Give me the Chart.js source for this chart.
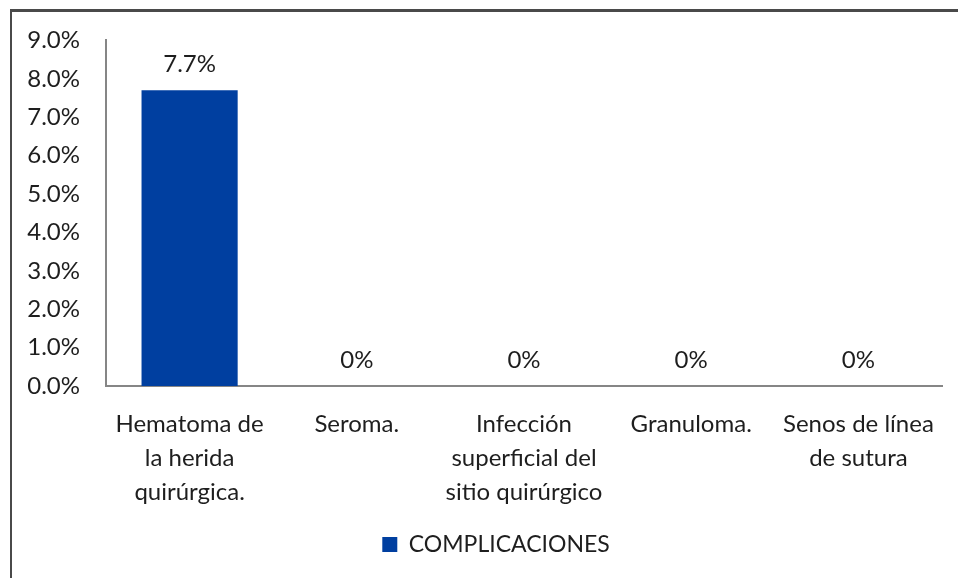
<!DOCTYPE html>
<html>
<head>
<meta charset="utf-8">
<script src="https://cdn.jsdelivr.net/npm/chart.js@4"></script>
<style>
  html, body { margin: 0; padding: 0; background: #fff; }
  #marco { position: absolute; left: 10px; top: 9px; width: 960px; height: 600px; border-top: 3px solid #4a4a4a; border-left: 2px solid #4a4a4a; }
  #lienzo { position: absolute; left: 0; top: 0; }
</style>
</head>
<body>
<div id="marco"></div>
<canvas id="lienzo" width="958" height="578"></canvas>
<script>
/* Datos del gráfico de complicaciones */
const categorias = [
    ['Hematoma de', 'la herida', 'quirúrgica.'],
    ['Seroma.'],
    ['Infección', 'superficial del', 'sitio quirúrgico'],
    ['Granuloma.'],
    ['Senos de línea', 'de sutura']
];
const valores = [7.7, 0, 0, 0, 0];
const etiquetas_valor = ['7.7%', '0%', '0%', '0%', '0%'];
const nombre_serie = 'COMPLICACIONES';

const fuente = 'Lato, "Open Sans", sans-serif';
const color_texto = '#1e1e1e';

/* Etiquetas encima de cada barra */
const plugin_etiquetas = {
    id: 'etiquetas_barras',
    afterUpdate(chart) {
        // la leyenda queda centrada un poco a la derecha, como en el original
        chart.legend.left += 50;
    },
    afterDatasetsDraw(chart) {
        const ctx = chart.ctx;
        const meta = chart.getDatasetMeta(0);
        ctx.save();
        ctx.font = '24px ' + fuente;
        ctx.fillStyle = color_texto;
        ctx.textAlign = 'center';
        ctx.textBaseline = 'middle';
        meta.data.forEach(function (barra, i) {
            ctx.fillText(etiquetas_valor[i], barra.x, barra.y - 26);
        });
        ctx.restore();
    }
};

const data_complicaciones = {
    labels: categorias,
    datasets: [{
        label: nombre_serie,
        data: valores,
        backgroundColor: 'rgb(0, 63, 160)',
        borderWidth: 0,
        categoryPercentage: 1,
        barPercentage: 0.575
    }]
};

const config_complicaciones = {
    type: 'bar',
    data: data_complicaciones,
    options: {
        responsive: false,
        animation: false,
        layout: { padding: { top: 40, right: 16, bottom: 12, left: 0 } },
        plugins: {
            tooltip: { enabled: false },
            legend: {
                position: 'bottom',
                labels: {
                    font: { family: fuente, size: 23 },
                    color: color_texto,
                    boxWidth: 15,
                    boxHeight: 15,
                    padding: 10
                }
            }
        },
        scales: {
            y: {
                min: 0,
                max: 9,
                afterFit(escala) { escala.width = 106; },
                grid: { display: false, drawTicks: false },
                border: { display: true, color: '#868686', width: 2 },
                ticks: {
                    stepSize: 1,
                    padding: 26,
                    color: color_texto,
                    font: { family: fuente, size: 24 },
                    callback: function (v) { return v.toFixed(1) + '%'; }
                }
            },
            x: {
                afterFit(escala) { escala.height = 137; },
                grid: { display: false, drawTicks: false },
                border: { display: true, color: '#868686', width: 2 },
                ticks: {
                    padding: 21,
                    maxRotation: 0,
                    autoSkip: false,
                    color: color_texto,
                    font: { family: fuente, size: 24, lineHeight: 1.42 }
                }
            }
        }
    },
    plugins: [plugin_etiquetas]
};

const grafico_complicaciones = new Chart(
    document.getElementById('lienzo'),
    config_complicaciones
);
</script>
</body>
</html>
